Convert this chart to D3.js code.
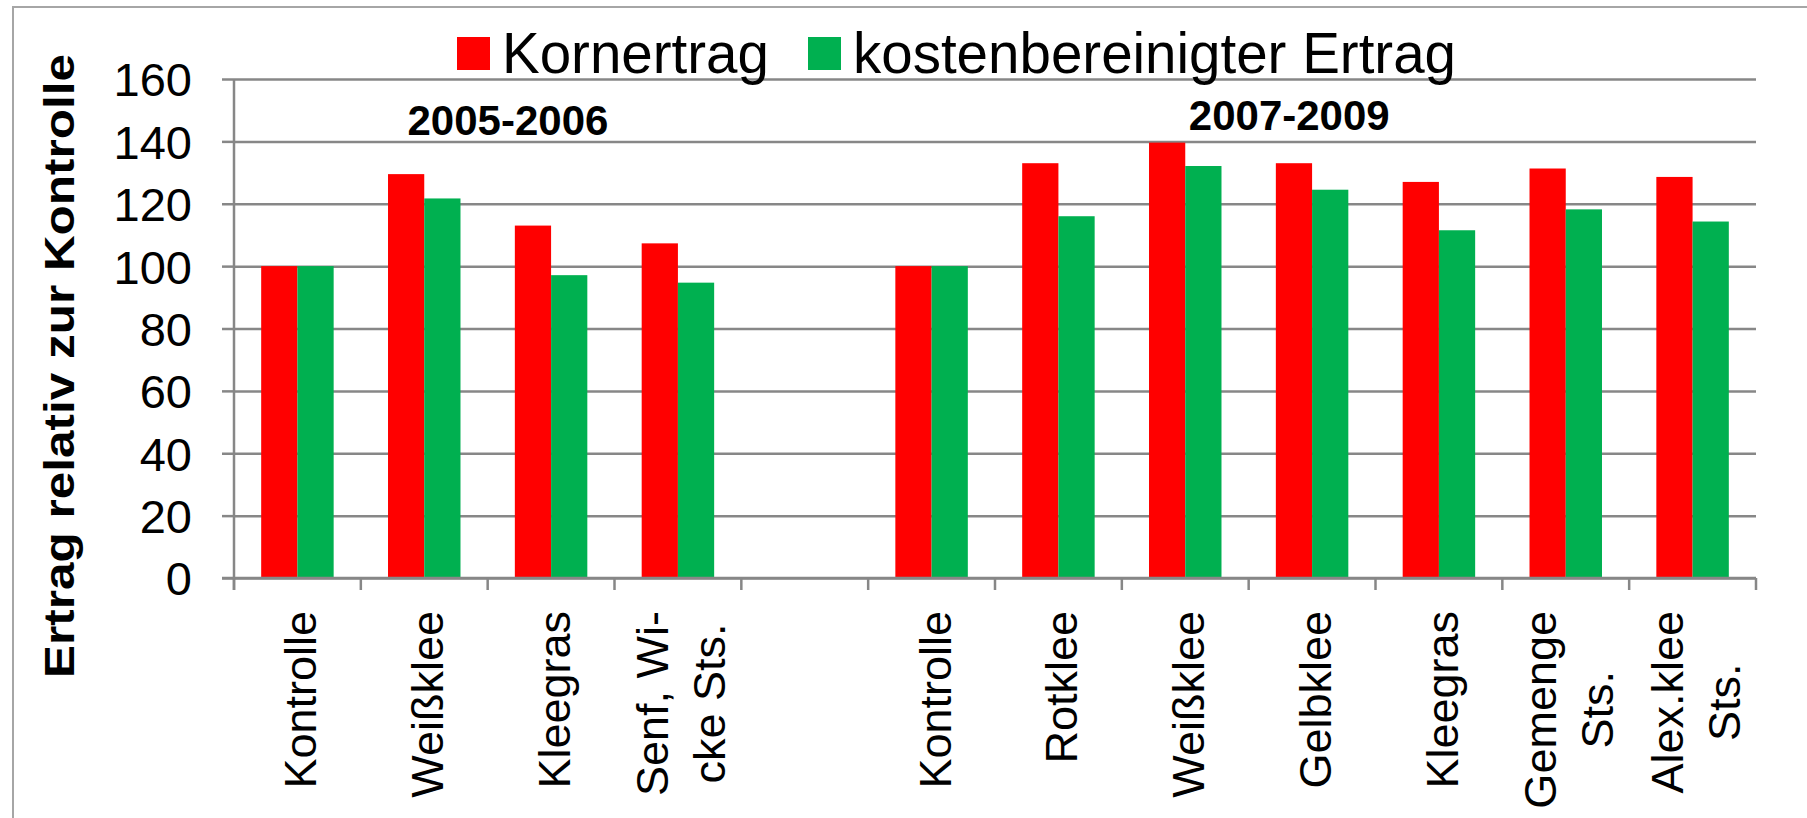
<!DOCTYPE html>
<html>
<head>
<meta charset="utf-8">
<script src="https://cdn.jsdelivr.net/npm/d3@7"></script>
<style>
  html, body { margin: 0; padding: 0; background: #ffffff; }
  svg { display: block; }
  text { font-family: "Liberation Sans", Arial, sans-serif; fill: #000; }
</style>
</head>
<body>
<svg id="chart" width="1807" height="818"></svg>
<script>
// ---------- data ----------
const categories = ["Kontrolle", "Weißklee", "Kleegras", "Senf, Wi-\ncke Sts.", "",
                    "Kontrolle", "Rotklee", "Weißklee", "Gelbklee", "Kleegras",
                    "Gemenge\nSts.", "Alex.klee\nSts."];
const kornertrag = [100, 129.5, 113, 107.3, null, 100, 133, 139.6, 133, 127, 131.3, 128.6];
const kostenbereinigt = [100, 121.7, 97.1, 94.7, null, 100, 116, 132.1, 124.5, 111.5, 118.2, 114.3];
const seriesNames = ["Kornertrag", "kostenbereinigter Ertrag"];
const seriesColors = ["#ff0000", "#00b050"];
const yTicks = [0, 20, 40, 60, 80, 100, 120, 140, 160];
const periodLabels = ["2005-2006", "2007-2009"];
const yTitle = "Ertrag relativ zur Kontrolle";

// ---------- layout ----------
const svg = d3.select("#chart");
const plot = { left: 234, right: 1756, top: 79, bottom: 578 };
const gridColor = "#878787";

const keys = categories.map((c, i) => i);
const x = d3.scaleBand()
  .domain(keys)
  .range([plot.left, plot.right])
  .paddingInner(1.5 / 3.5)
  .paddingOuter(0.75 / 3.5);
const xs = d3.scaleBand().domain([0, 1]).range([0, x.bandwidth()]);
const y = d3.scaleLinear().domain([0, 160]).range([plot.bottom, plot.top]);

// outer frame (left + top edges visible)
svg.append("rect")
  .attr("x", 13).attr("y", 7).attr("width", 1840).attr("height", 900)
  .attr("fill", "none").attr("stroke", "#a6a6a6").attr("stroke-width", 2);

// gridlines
const grid = svg.append("g").attr("transform", `translate(${plot.left},0)`)
  .call(d3.axisLeft(y).tickValues(yTicks).tickSize(-(plot.right - plot.left)).tickFormat(""));
grid.select(".domain").remove();
grid.selectAll("line").attr("stroke", gridColor).attr("stroke-width", 2.5);

// bars
const series = [kornertrag, kostenbereinigt];
series.forEach((vals, s) => {
  svg.append("g").selectAll("rect")
    .data(keys.filter(i => vals[i] != null))
    .join("rect")
    .attr("x", i => x(i) + xs(s))
    .attr("width", xs.bandwidth())
    .attr("y", i => y(vals[i]))
    .attr("height", i => y(0) - y(vals[i]))
    .attr("fill", seriesColors[s]);
});

// y axis
const yAxis = svg.append("g").attr("transform", `translate(${plot.left},0)`)
  .call(d3.axisLeft(y).tickValues(yTicks).tickSize(12).tickPadding(30));
yAxis.select(".domain").remove();
yAxis.selectAll("line").attr("stroke", gridColor).attr("stroke-width", 2.5);
yAxis.selectAll("text")
  .attr("font-family", "Liberation Sans, Arial, sans-serif")
  .attr("font-size", 47).attr("fill", "#000").attr("dy", "0.36em");
svg.append("line")
  .attr("x1", plot.left).attr("x2", plot.left)
  .attr("y1", plot.top).attr("y2", plot.bottom + 12)
  .attr("stroke", gridColor).attr("stroke-width", 2.5);

// x axis line + ticks at category boundaries
svg.append("line")
  .attr("x1", plot.left - 12).attr("x2", plot.right)
  .attr("y1", plot.bottom).attr("y2", plot.bottom)
  .attr("stroke", gridColor).attr("stroke-width", 2.5);
const boundaries = d3.range(categories.length + 1).map(i => plot.left + i * x.step());
svg.append("g").selectAll("line").data(boundaries).join("line")
  .attr("x1", d => d).attr("x2", d => d)
  .attr("y1", plot.bottom).attr("y2", plot.bottom + 12)
  .attr("stroke", gridColor).attr("stroke-width", 2.5);

// x category labels (rotated, multi-line centered)
const labelTop = plot.bottom + 33;
const lineGap = 57;
keys.forEach(i => {
  const lines = categories[i] ? categories[i].split("\n") : [];
  if (!lines.length) return;
  const cx = x(i) + x.bandwidth() / 2;
  const g = svg.append("g");
  const texts = lines.map((ln, k) => {
    const bx = cx + 19 + (k - (lines.length - 1) / 2) * lineGap;
    return g.append("text")
      .attr("font-size", 45)
      .attr("text-anchor", "middle")
      .attr("data-bx", bx)
      .text(ln);
  });
  const maxLen = d3.max(texts, t => t.node().getComputedTextLength());
  const cy = labelTop + maxLen / 2;
  texts.forEach(t => {
    const bx = +t.attr("data-bx");
    t.attr("transform", `translate(${bx},${cy}) rotate(-90)`).attr("x", 0).attr("y", 0);
  });
});

// period annotations
svg.append("text")
  .attr("x", plot.left + 2.16 * x.step()).attr("y", y(142))
  .attr("text-anchor", "middle").attr("font-size", 42).attr("font-weight", "bold")
  .text(periodLabels[0]);
svg.append("text")
  .attr("x", plot.left + 8.32 * x.step()).attr("y", y(143.6))
  .attr("text-anchor", "middle").attr("font-size", 42).attr("font-weight", "bold")
  .text(periodLabels[1]);

// y-axis title
svg.append("text")
  .attr("transform", "translate(74,366) rotate(-90)")
  .attr("text-anchor", "middle")
  .attr("font-size", 43).attr("font-weight", "bold")
  .attr("textLength", 624).attr("lengthAdjust", "spacingAndGlyphs")
  .text(yTitle);

// legend
const legendStarts = [457, 808];
seriesNames.forEach((name, s) => {
  const lx = legendStarts[s];
  svg.append("rect").attr("x", lx).attr("y", 37).attr("width", 33).attr("height", 33)
    .attr("fill", seriesColors[s]);
  svg.append("text").attr("x", lx + 45).attr("y", 73)
    .attr("font-size", 56.5).text(name);
});
</script>
</body>
</html>
